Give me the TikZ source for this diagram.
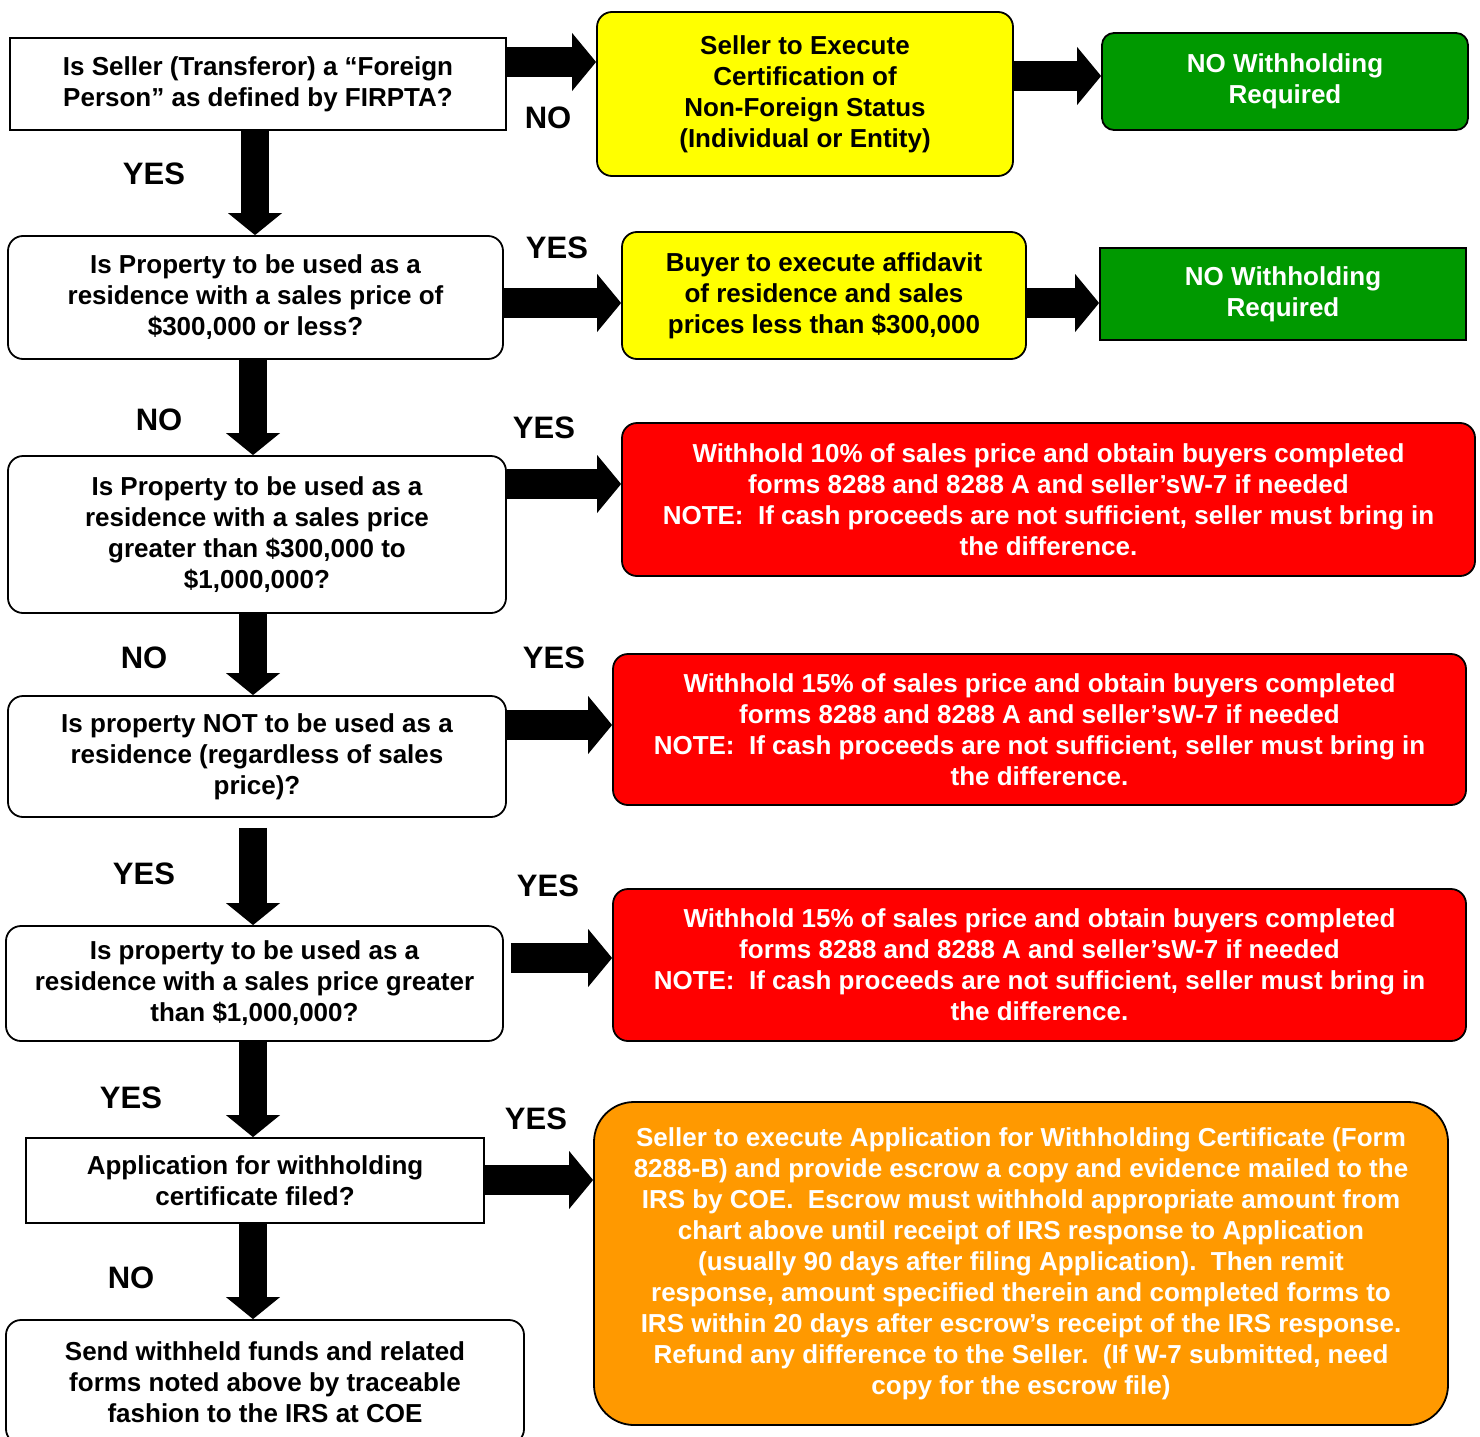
\documentclass[tikz,border=0pt]{standalone}
\usepackage{fontspec}
\setmainfont{Liberation Sans}
\usetikzlibrary{arrows.meta}
\definecolor{cyel}{RGB}{255,255,0}
\definecolor{cgrn}{RGB}{0,153,0}
\definecolor{cred}{RGB}{255,0,0}
\definecolor{corg}{RGB}{255,153,0}
\begin{document}
\begin{tikzpicture}[x=1pt,y=-1pt,
  box/.style={draw=black, line width=1.8pt, align=center, inner sep=0pt, fill=white, text=black,
    font=\bfseries\fontsize{26}{31}\selectfont},
  rbox/.style={box, rounded corners=15pt},
  lbl/.style={font=\bfseries\fontsize{31}{31}\selectfont, inner sep=0pt},
  harrow/.style={line width=30pt, draw=black, -{Triangle[length=24pt,width=58pt,line width=0pt]}},
  varrow/.style={line width=28pt, draw=black, -{Triangle[length=22pt,width=54pt,line width=0pt]}},
]
\useasboundingbox (0,0) rectangle (1480,1437);
\fill[white] (0,0) rectangle (1480,1437);

% left column
\node[box, minimum width=496pt, minimum height=92pt] (b1) at (258,84)
  {Is Seller (Transferor) a “Foreign\\Person” as defined by FIRPTA?};
\node[rbox, minimum width=495pt, minimum height=123pt] (b2) at (255.5,297.5)
  {Is Property to be used as a\\residence with a sales price of\\\$300,000 or less?};
\node[rbox, minimum width=498pt, minimum height=157pt] (b3) at (257,534.5)
  {Is Property to be used as a\\residence with a sales price\\greater than \$300,000 to\\\$1,000,000?};
\node[rbox, minimum width=498pt, minimum height=121pt] (b4) at (257,756.5)
  {Is property NOT to be used as a\\residence (regardless of sales\\price)?};
\node[rbox, minimum width=497pt, minimum height=115pt] (b5) at (254.5,983.5)
  {Is property to be used as a\\residence with a sales price greater\\than \$1,000,000?};
\node[box, minimum width=458pt, minimum height=85pt] (b6) at (255,1180.5)
  {Application for withholding\\certificate filed?};
\node[rbox, minimum width=518pt, minimum height=124pt] (b7) at (265,1382)
  {Send withheld funds and related\\forms noted above by traceable\\fashion to the IRS at COE};

% right side
\node[rbox, fill=cyel, minimum width=416pt, minimum height=164pt] (y1) at (805,94)
  {Seller to Execute\\Certification of\\Non-Foreign Status\\(Individual or Entity)};
\node[rbox, fill=cgrn, text=white, rounded corners=12pt, minimum width=366pt, minimum height=97pt] (g1) at (1285,81.5)
  {NO Withholding\\Required};
\node[rbox, fill=cyel, minimum width=404pt, minimum height=127pt] (y2) at (824,295.5)
  {Buyer to execute affidavit\\of residence and sales\\prices less than \$300,000};
\node[box, fill=cgrn, text=white, minimum width=366pt, minimum height=92pt] (g2) at (1283,294)
  {NO Withholding\\Required};
\node[rbox, fill=cred, text=white, minimum width=853pt, minimum height=153pt] (r1) at (1048.5,499.5)
  {Withhold 10\% of sales price and obtain buyers completed\\forms 8288 and 8288 A and seller’sW-7 if needed\\NOTE:\ \ If cash proceeds are not sufficient, seller must bring in\\the difference.};
\node[rbox, fill=cred, text=white, minimum width=853pt, minimum height=151pt] (r2) at (1039.5,729.5)
  {Withhold 15\% of sales price and obtain buyers completed\\forms 8288 and 8288 A and seller’sW-7 if needed\\NOTE:\ \ If cash proceeds are not sufficient, seller must bring in\\the difference.};
\node[rbox, fill=cred, text=white, minimum width=853pt, minimum height=152pt] (r3) at (1039.5,965)
  {Withhold 15\% of sales price and obtain buyers completed\\forms 8288 and 8288 A and seller’sW-7 if needed\\NOTE:\ \ If cash proceeds are not sufficient, seller must bring in\\the difference.};
\node[rbox, fill=corg, text=white, rounded corners=40pt, minimum width=854pt, minimum height=323pt] (o1) at (1021,1263.5)
  {Seller to execute Application for Withholding Certificate (Form\\
   8288-B) and provide escrow a copy and evidence mailed to the\\
   IRS by COE.\ \ Escrow must withhold appropriate amount from\\
   chart above until receipt of IRS response to Application\\
   (usually 90 days after filing Application).\ \ Then remit\\
   response, amount specified therein and completed forms to\\
   IRS within 20 days after escrow’s receipt of the IRS response.\\
   Refund any difference to the Seller.\ \ (If W-7 submitted, need\\
   copy for the escrow file)};

% connectors
\coordinate (col) at (253,0);
\draw[varrow] (b1.south -| 255,0) -- (b2.north -| 255,0);
\draw[varrow] (b2.south -| col) -- (b3.north -| col);
\draw[varrow] (b3.south -| col) -- (b4.north -| col);
\draw[varrow] ([yshift=-10pt]b4.south -| col) -- (b5.north -| col);
\draw[varrow] (b5.south -| col) -- (b6.north -| col);
\draw[varrow] (b6.south -| col) -- (b7.north -| col);

\draw[harrow] (b1.east |- 0,62) -- (y1.west |- 0,62);
\draw[harrow] (y1.east |- 0,76) -- (g1.west |- 0,76);
\draw[harrow] (b2.east |- 0,303) -- (y2.west |- 0,303);
\draw[harrow] (y2.east |- 0,303) -- (g2.west |- 0,303);
\draw[harrow] (b3.east |- 0,484) -- (r1.west |- 0,484);
\draw[harrow] (b4.east |- 0,725) -- (r2.west |- 0,725);
\draw[harrow] ([xshift=7pt]b5.east |- 0,958) -- (r3.west |- 0,958);
\draw[harrow] (b6.east |- 0,1180) -- (o1.west |- 0,1180);

% labels
\node[lbl] (l1) at (548,118) {NO};
\node[lbl] (l2) at (154,174) {YES};
\node[lbl] (l3) at (557,248) {YES};
\node[lbl] (l4) at (159,420) {NO};
\node[lbl] (l5) at (544,428) {YES};
\node[lbl] (l6) at (144,658) {NO};
\node[lbl] (l7) at (554,658) {YES};
\node[lbl] (l8) at (144,874) {YES};
\node[lbl] (l9) at (548,886) {YES};
\node[lbl] (l10) at (131,1098) {YES};
\node[lbl] (l11) at (536,1119) {YES};
\node[lbl] (l12) at (131,1278) {NO};
\end{tikzpicture}
\end{document}
